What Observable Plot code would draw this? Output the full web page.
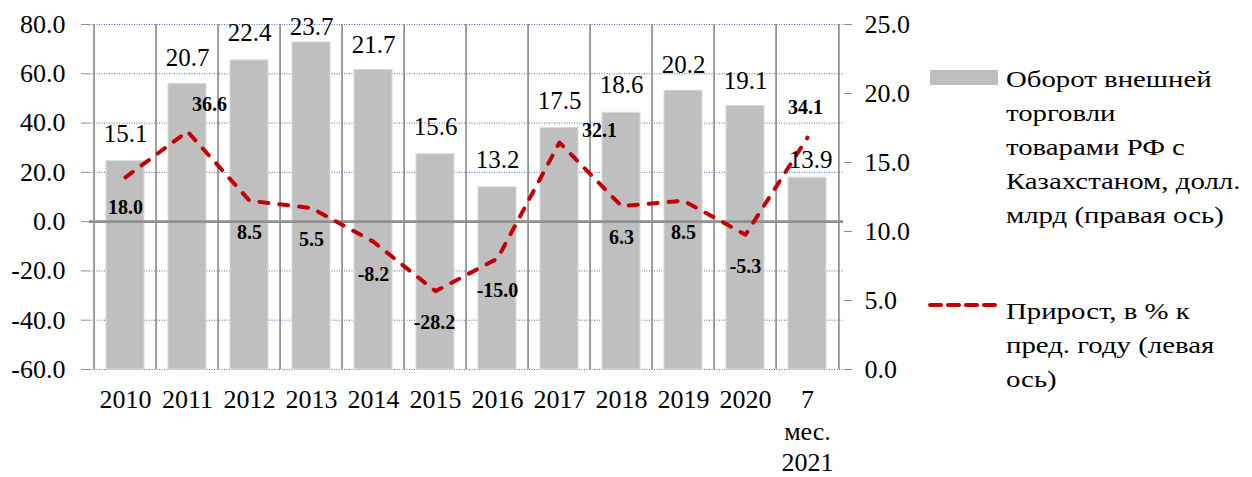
<!DOCTYPE html>
<html>
<head>
<meta charset="utf-8">
<script src="https://cdn.jsdelivr.net/npm/d3@7"></script>
<script src="https://cdn.jsdelivr.net/npm/@observablehq/plot@0.6"></script>
<style>
  html, body { margin: 0; padding: 0; background: #fff; }
  #wrap { position: relative; width: 1252px; height: 477px; font-family: "Liberation Serif", "Times New Roman", serif; }
  .leg { position: absolute; left: 1006px; font-size: 24px; line-height: 34px; color: #000; white-space: nowrap;
         transform: scaleX(1.2); transform-origin: 0 0; font-family: "Liberation Serif", "Times New Roman", serif; }
</style>
</head>
<body>
<div id="wrap">
  <div id="chart"></div>
  <div style="position:absolute;left:930px;top:70px;width:68px;height:15px;background:#BFBFBF;"></div>
  <div class="leg" style="top:62px;">Оборот внешней<br>торговли<br>товарами РФ с<br>Казахстаном, долл.<br>млрд (правая ось)</div>
  <svg style="position:absolute;left:924px;top:300px;" width="80" height="10">
    <line x1="6" y1="5" x2="74" y2="5" stroke="#C00000" stroke-width="4" stroke-dasharray="11,7" stroke-linecap="round"/>
  </svg>
  <div class="leg" style="top:294px;">Прирост, в % к<br>пред. году (левая<br>ось)</div>
</div>
<script>
// ---- data ----
const categories = ["2010","2011","2012","2013","2014","2015","2016","2017","2018","2019","2020","7\nмес.\n2021"];
const turnover = [15.1, 20.7, 22.4, 23.7, 21.7, 15.6, 13.2, 17.5, 18.6, 20.2, 19.1, 13.9]; // right axis, bln USD
const growth = [18.0, 36.6, 8.5, 5.5, -8.2, -28.2, -15.0, 32.1, 6.3, 8.5, -5.3, 34.1];     // left axis, %
const leftTicks = [-60, -40, -20, 0, 20, 40, 60, 80];
const rightTicks = [0, 5, 10, 15, 20, 25];

// ---- label layout (pixel offsets) ----
const barLabelDx = [0,0,0,0,0,0,0,0,0,0,0,3];
const barLabelDy = [-27,-26,-27,-15,-25,-27,-27,-27,-28,-26,-25,-18];
const growthLabelDx = [0,22,0,0,0,-1,0,40,0,0,0,-2];
const growthLabelDy = [30,-27,32,32,33,31,32,-12,31,32,32,-30];

// ---- layout ----
const W = 1252, H = 477;
const mL = 89, mR = 409, mT = 24, mB = 108;
const step = (W - mL - mR) / categories.length;

// right-axis value -> left-axis units
const L0 = leftTicks[0], L1 = leftTicks[leftTicks.length - 1];
const R0 = rightTicks[0], R1 = rightTicks[rightTicks.length - 1];
const toLeft = v => L0 + (v - R0) * (L1 - L0) / (R1 - R0);
const toRight = v => R0 + (v - L0) * (R1 - R0) / (L1 - L0);

const rows = categories.map((c, i) => ({cat: c, turnover: turnover[i], growth: growth[i], i}));

const FONT = '"Liberation Serif", "Times New Roman", serif';
const GRAY = "#8F8F8F";

const marks = [
  Plot.gridY(leftTicks, {stroke: "#4472C4", strokeOpacity: 1, strokeWidth: 1, strokeDasharray: "1,1.5"}),
  Plot.ruleX(categories, {x: d => d, dx: -step / 2, stroke: GRAY, strokeWidth: 1.7}),
  Plot.ruleX([categories[categories.length - 1]], {x: d => d, dx: step / 2, stroke: GRAY, strokeWidth: 1.7}),
  Plot.barY(rows, {x: "cat", y1: () => toLeft(0), y2: d => toLeft(d.turnover), fill: "#BFBFBF", stroke: "#DADADA", strokeWidth: 1}),
  Plot.ruleY([0], {stroke: GRAY, strokeWidth: 2.6}),
  Plot.lineY(rows, {x: "cat", y: "growth", stroke: "#C00000", strokeWidth: 4, strokeDasharray: "9,11", strokeLinecap: "round"}),
  ...rows.map((d, i) => Plot.text([d], {x: "cat", y: r => toLeft(r.turnover), text: r => r.turnover.toFixed(1), dx: barLabelDx[i], dy: barLabelDy[i], fontSize: 25, fill: "#000", fontFamily: FONT})),
  ...rows.map((d, i) => Plot.text([d], {x: "cat", y: "growth", text: r => r.growth.toFixed(1), dx: growthLabelDx[i], dy: growthLabelDy[i], fontSize: 20, fontWeight: "bold", fill: "#000", fontFamily: FONT})),
  Plot.axisY({anchor: "left", ticks: leftTicks, tickFormat: d => d.toFixed(1), tickSize: 8, tickPadding: 16, fontSize: 26, stroke: GRAY, fill: "#000", fontFamily: FONT}),
  Plot.axisY({anchor: "right", ticks: rightTicks.map(toLeft), tickFormat: d => toRight(d).toFixed(1), tickSize: 8, tickPadding: 13, fontSize: 26, stroke: GRAY, fill: "#000", fontFamily: FONT}),
  Plot.axisX({anchor: "bottom", tickSize: 0, tickPadding: 16, fontSize: 26, lineHeight: 1.22, fill: "#000", fontFamily: FONT})
];

const chart = Plot.plot({
  width: W,
  height: H,
  marginLeft: mL,
  marginRight: mR,
  marginTop: mT,
  marginBottom: mB,
  style: {fontFamily: FONT, fontSize: "26px", background: "#fff", color: "#000"},
  x: {domain: categories, paddingInner: 0.38, paddingOuter: 0.19, label: null},
  y: {domain: [L0, L1], label: null},
  marks
});
document.getElementById("chart").appendChild(chart);
</script>
</body>
</html>
